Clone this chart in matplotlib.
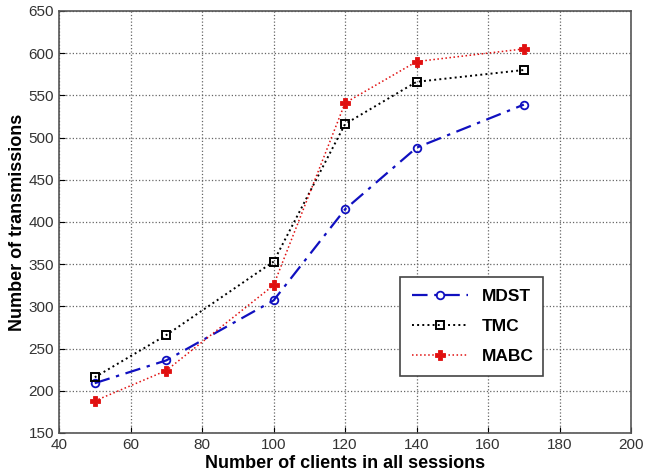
import numpy as np
import matplotlib.pyplot as plt

plt.rcParams['font.family'] = ['Liberation Sans', 'DejaVu Sans']

clients = [50, 70, 100, 120, 140, 170]
mdst = [209, 236, 307, 415, 488, 539]
tmc = [216, 266, 353, 516, 566, 580]
mabc = [188, 224, 325, 541, 590, 605]

xticks = [40, 60, 80, 100, 120, 140, 160, 180, 200]
yticks = [150, 200, 250, 300, 350, 400, 450, 500, 550, 600, 650]

fig = plt.figure(figsize=(6.52, 4.74), dpi=100)
ax = fig.add_axes([0.0905, 0.0865, 0.8775, 0.8905])

ax.plot(clients, mdst, color='#1010c0', linestyle=(0, (7, 3, 1.5, 3)), linewidth=1.6,
        marker='o', markersize=5.5, markerfacecolor='none', markeredgewidth=1.3,
        label='MDST')
ax.plot(clients, tmc, color='black', linestyle=':', linewidth=1.4,
        marker='s', markersize=6, markerfacecolor='none', markeredgewidth=1.4,
        label='TMC')
ax.plot(clients, mabc, color='#e01010', linestyle=':', linewidth=1.1,
        marker='P', markersize=6.5, markeredgewidth=0.6, markeredgecolor='#e01010',
        label='MABC')

ax.set_xlim(40, 200)
ax.set_ylim(150, 650)
ax.set_xticks(xticks)
ax.set_yticks(yticks)
ax.tick_params(direction='in', labelsize=11, labelcolor='#333333', length=4)
ax.grid(True, linestyle=':', color='#666666', linewidth=0.9)
for s in ax.spines.values():
    s.set_color('#555555')
    s.set_linewidth(1.2)

ax.set_xlabel('Number of clients in all sessions', fontsize=13, fontweight='bold', labelpad=2)
ax.set_ylabel('Number of transmissions', fontsize=13, fontweight='bold', labelpad=2)

leg = ax.legend(loc='lower left', bbox_to_anchor=(0.596, 0.135, 0.25, 0.232),
                mode='expand', borderaxespad=0, prop={'weight': 'bold', 'size': 12.5},
                fancybox=False, framealpha=1, edgecolor='#444444',
                handlelength=3.2, labelspacing=0.85, borderpad=0.7)
leg.get_frame().set_linewidth(1.2)

fig.savefig('out.png', dpi=100)
